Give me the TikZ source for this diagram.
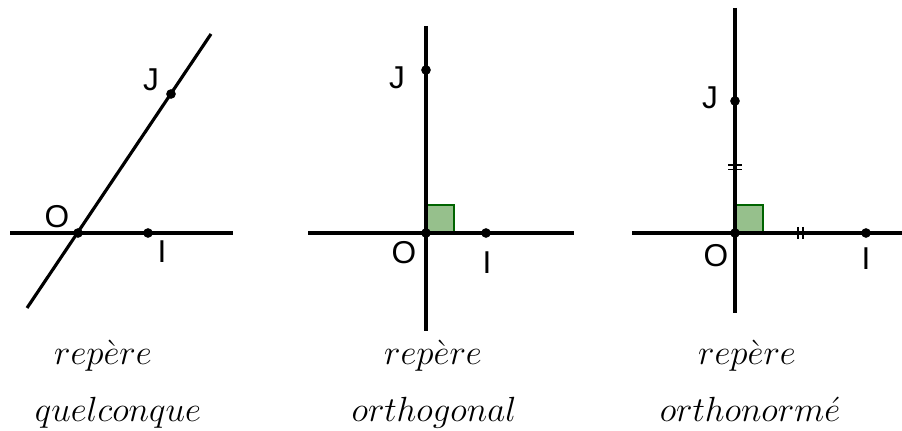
\RequirePackage{fix-cm}
\documentclass[tikz,border=0pt]{standalone}
\usepackage{fontspec}
\newfontfamily\ptfont{Liberation Sans}
\usetikzlibrary{positioning}
\definecolor{sqfill}{RGB}{150,192,140}
\definecolor{sqdraw}{RGB}{0,100,0}

\begin{document}
\begin{tikzpicture}[
    x=0.02cm, y=-0.02cm,
    axis/.style    = {line width=1.8pt, black},
    pt/.style      = {circle, fill=black, inner sep=0pt, minimum size=5.5pt},
    ptlbl/.style   = {font=\ptfont\fontsize{18}{20}\selectfont, inner sep=0pt},
    caption/.style = {font=\fontsize{19.9}{22}\selectfont, inner sep=0pt, anchor=base},
    rangle/.style  = {draw=sqdraw, fill=sqfill, line width=1.5pt},
    tick/.style    = {line width=0.9pt}
]
\useasboundingbox (0,0) rectangle (902,431);

%% -- Frame 1: quelconque --------------------------------------
\coordinate (h1a) at (10,233);
\coordinate (h1b) at (233,233);
\coordinate (d1a) at (27,308);
\coordinate (d1b) at (211,34);
\draw[axis] (h1a) -- (h1b);
\draw[axis] (d1a) -- (d1b);
\node[pt] (O1) at (78,233) {};
\node[pt] (I1) at (148,233) {};
\node[pt] (J1) at (171,94) {};
\node[ptlbl] (O1l) at (57,217) {O};
\node[ptlbl] (I1l) at (162,252) {I};
\node[ptlbl] (J1l) at (151,80) {J};
\node[caption] (c1a) at (103,365) {$rep\grave{e}re$};
\node[caption] (c1b) at (118,422) {$quelconque$};

%% -- Frame 2: orthogonal --------------------------------------
\coordinate (h2a) at (308,233);
\coordinate (h2b) at (574,233);
\coordinate (v2a) at (426,26);
\coordinate (v2b) at (426,331);
\draw[rangle] (426,233) rectangle (454,205);
\draw[axis] (h2a) -- (h2b);
\draw[axis] (v2a) -- (v2b);
\node[pt] (O2) at (426,233) {};
\node[pt] (I2) at (486,233) {};
\node[pt] (J2) at (426,70) {};
\node[ptlbl] (O2l) at (404,253) {O};
\node[ptlbl] (I2l) at (487,263) {I};
\node[ptlbl] (J2l) at (397,78) {J};
\node[caption] (c2a) at (433,365) {$rep\grave{e}re$};
\node[caption] (c2b) at (434,422) {$orthogonal$};

%% -- Frame 3: orthonorme --------------------------------------
\coordinate (h3a) at (632,233);
\coordinate (h3b) at (902,233);
\coordinate (v3a) at (735,8);
\coordinate (v3b) at (735,313);
\draw[rangle] (735,233) rectangle (763,205);
\draw[axis] (h3a) -- (h3b);
\draw[axis] (v3a) -- (v3b);
\node[pt] (O3) at (735,233) {};
\node[pt] (I3) at (866,233) {};
\node[pt] (J3) at (735,101) {};
\draw[tick] (728,165) -- (742,165) (728,169.5) -- (742,169.5);
\draw[tick] (798,227) -- (798,239) (803,227) -- (803,239);
\node[ptlbl] (O3l) at (716,256) {O};
\node[ptlbl] (I3l) at (866,259) {I};
\node[ptlbl] (J3l) at (710,98) {J};
\node[caption] (c3a) at (747,365) {$rep\grave{e}re$};
\node[caption] (c3b) at (750,422) {$orthonorm\acute{e}$};

\end{tikzpicture}
\end{document}
